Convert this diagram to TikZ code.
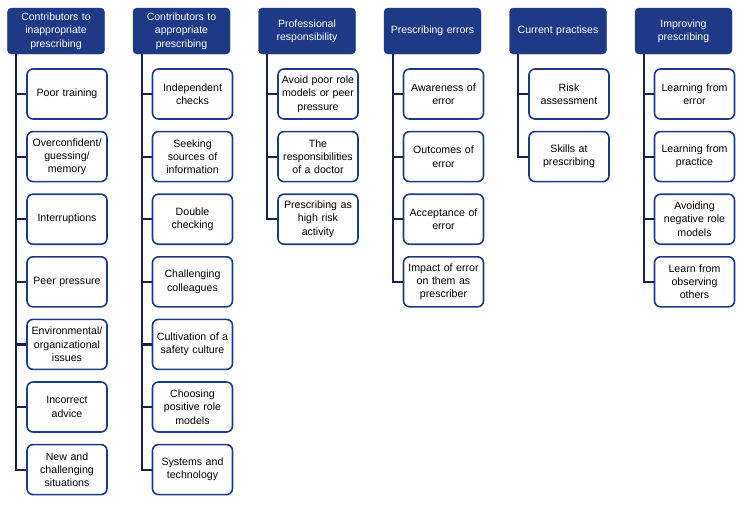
\documentclass[tikz,border=0pt]{standalone}
\usepackage{fontspec}
\setmainfont{Liberation Sans}
\usepackage{xcolor}
\usetikzlibrary{positioning}
\definecolor{headblue}{RGB}{30,57,133}
\definecolor{linknavy}{RGB}{20,33,78}
\tikzset{
    head/.style={draw=headblue, fill=headblue, text=white, rounded corners=4pt,
        minimum width=97pt, minimum height=46pt, text width=92pt, align=center,
        inner sep=1pt, font=\fontsize{10.5}{13.3}\selectfont}, % column titles
    item/.style={draw=headblue, line width=1.6pt, fill=white, rounded corners=6pt,
        minimum width=80pt, minimum height=50pt, text width=78pt, align=center,
        inner sep=1pt, font=\fontsize{10.6}{13.3}\selectfont}, % sub-themes
    link/.style={draw=linknavy, line width=2.2pt},
}

\begin{document}
\begin{tikzpicture}[node distance=62.6pt, on grid]
    \useasboundingbox (-56pt,31pt) rectangle ++(742pt,-504pt);

    % Titles
    \node[head] (h1) {Contributors to\\inappropriate\\prescribing};
    \node[head] (h2) [right=125.5pt of h1] {Contributors to\\appropriate\\prescribing};
    \node[head] (h3) [right=125.5pt of h2] {Professional\\responsibility};
    \node[head] (h4) [right=125.5pt of h3] {Prescribing errors};
    \node[head] (h5) [right=125.5pt of h4] {Current practises};
    \node[head] (h6) [right=125.5pt of h5] {Improving\\prescribing};

    % Column 1
    \node[item] (a1) [below right=63pt and 11pt of h1] {Poor training};
    \node[item] (a2) [below=of a1] {Overconfident/\\guessing/\\memory};
    \node[item] (a3) [below=of a2] {Interruptions};
    \node[item] (a4) [below=of a3] {Peer pressure};
    \node[item] (a5) [below=of a4] {Environmental/\\organizational\\issues};
    \node[item] (a6) [below=of a5] {Incorrect\\advice};
    \node[item] (a7) [below=of a6] {New and\\challenging\\situations};

    % Column 2
    \node[item] (b1) [below right=63pt and 11pt of h2] {Independent\\checks};
    \node[item] (b2) [below=of b1] {Seeking\\sources of\\information};
    \node[item] (b3) [below=of b2] {Double\\checking};
    \node[item] (b4) [below=of b3] {Challenging\\colleagues};
    \node[item] (b5) [below=of b4] {Cultivation of a\\safety culture};
    \node[item] (b6) [below=of b5] {Choosing\\positive role\\models};
    \node[item] (b7) [below=of b6] {Systems and\\technology};

    % Column 3
    \node[item] (c1) [below right=63pt and 11pt of h3] {Avoid poor role\\models or peer\\pressure};
    \node[item] (c2) [below=of c1] {The\\responsibilities\\of a doctor};
    \node[item] (c3) [below=of c2] {Prescribing as\\high risk\\activity};

    % Column 4
    \node[item] (d1) [below right=63pt and 11pt of h4] {Awareness of\\error};
    \node[item] (d2) [below=of d1] {Outcomes of\\error};
    \node[item] (d3) [below=of d2] {Acceptance of\\error};
    \node[item] (d4) [below=of d3] {Impact of error\\on them as\\prescriber};

    % Column 5
    \node[item] (e1) [below right=63pt and 11pt of h5] {Risk\\assessment};
    \node[item] (e2) [below=of e1] {Skills at\\prescribing};

    % Column 6
    \node[item] (f1) [below right=63pt and 11pt of h6] {Learning from\\error};
    \node[item] (f2) [below=of f1] {Learning from\\practice};
    \node[item] (f3) [below=of f2] {Avoiding\\negative role\\models};
    \node[item] (f4) [below=of f3] {Learn from\\observing\\others};

    % Spines
    \coordinate (s1) at ([xshift=9pt]h1.south west);
    \coordinate (s2) at ([xshift=9pt]h2.south west);
    \coordinate (s3) at ([xshift=9pt]h3.south west);
    \coordinate (s4) at ([xshift=9pt]h4.south west);
    \coordinate (s5) at ([xshift=9pt]h5.south west);
    \coordinate (s6) at ([xshift=9pt]h6.south west);

    \draw[link] (s1) |- (a7.west);
    \draw[link] (s1 |- a1.west) -- (a1.west);
    \draw[link] (s1 |- a2.west) -- (a2.west);
    \draw[link] (s1 |- a3.west) -- (a3.west);
    \draw[link] (s1 |- a4.west) -- (a4.west);
    \draw[link] (s1 |- a5.west) -- (a5.west);
    \draw[link] (s1 |- a6.west) -- (a6.west);

    \draw[link] (s2) |- (b7.west);
    \draw[link] (s2 |- b1.west) -- (b1.west);
    \draw[link] (s2 |- b2.west) -- (b2.west);
    \draw[link] (s2 |- b3.west) -- (b3.west);
    \draw[link] (s2 |- b4.west) -- (b4.west);
    \draw[link] (s2 |- b5.west) -- (b5.west);
    \draw[link] (s2 |- b6.west) -- (b6.west);

    \draw[link] (s3) |- (c3.west);
    \draw[link] (s3 |- c1.west) -- (c1.west);
    \draw[link] (s3 |- c2.west) -- (c2.west);

    \draw[link] (s4) |- (d4.west);
    \draw[link] (s4 |- d1.west) -- (d1.west);
    \draw[link] (s4 |- d2.west) -- (d2.west);
    \draw[link] (s4 |- d3.west) -- (d3.west);

    \draw[link] (s5) |- (e2.west);
    \draw[link] (s5 |- e1.west) -- (e1.west);

    \draw[link] (s6) |- (f4.west);
    \draw[link] (s6 |- f1.west) -- (f1.west);
    \draw[link] (s6 |- f2.west) -- (f2.west);
    \draw[link] (s6 |- f3.west) -- (f3.west);
\end{tikzpicture}
\end{document}
